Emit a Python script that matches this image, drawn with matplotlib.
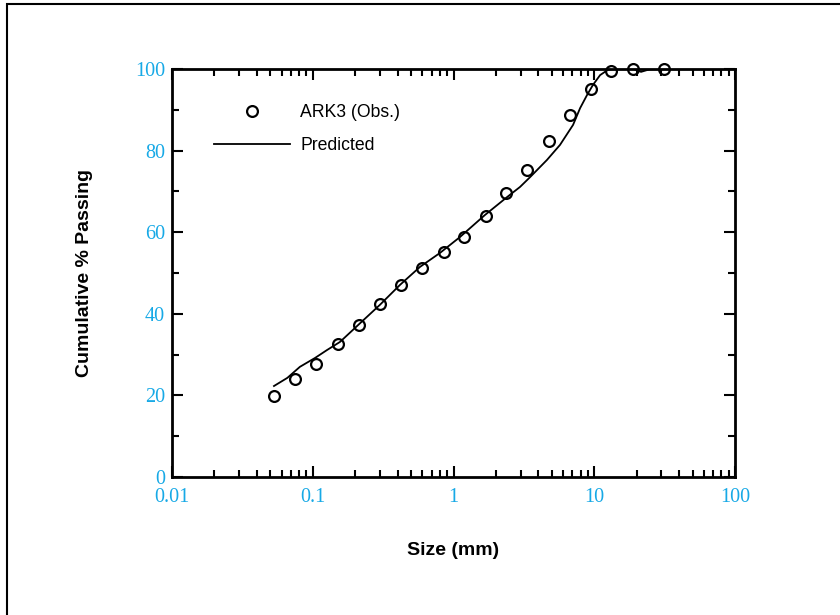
import numpy as np
import matplotlib.pyplot as plt
from matplotlib.patches import Rectangle
from matplotlib.ticker import LogLocator, MultipleLocator, FixedFormatter, FixedLocator

# observed gradation (sieve sizes in mm, % passing)
size_obs = [0.053, 0.075, 0.106, 0.15, 0.212, 0.3, 0.425, 0.6, 0.85, 1.18,
            1.7, 2.36, 3.35, 4.75, 6.7, 9.5, 13.2, 19.0, 31.5]
pass_obs = [19.8, 24.0, 27.7, 32.6, 37.3, 42.4, 47.1, 51.2, 55.1, 58.8,
            64.0, 69.6, 75.2, 82.4, 88.7, 95.1, 99.5, 100.0, 100.0]

# predicted curve
size_pred = [0.053, 0.066, 0.081, 0.104, 0.126, 0.156, 0.217, 0.30, 0.417, 0.578,
             0.80, 1.11, 1.67, 2.40, 2.97, 3.50, 4.61, 5.71, 7.07, 7.93, 8.88,
             9.79, 11.0, 12.5, 14.2, 19.0, 21.5, 24.6, 31.5]
pass_pred = [22.3, 24.3, 27.0, 29.2, 31.1, 33.1, 37.7, 42.2, 47.1, 51.5,
             54.9, 58.8, 64.2, 68.6, 71.1, 73.5, 77.7, 81.4, 86.3, 90.4, 93.6,
             96.1, 98.5, 99.8, 100.0, 100.0, 99.3, 99.9, 100.0]

tick_col = '#17A9E6'
serif = 'Liberation Serif'
sans = 'Liberation Sans'

fig = plt.figure(figsize=(8.4, 6.15), dpi=100)
ax = fig.add_axes([0.2048, 0.2244, 0.875 - 0.2048, 0.8878 - 0.2244])

ax.plot(size_obs, pass_obs, 'o', mfc='none', mec='black', ms=7.8, mew=1.6,
        label='ARK3 (Obs.)', clip_on=False, zorder=3)
ax.plot(size_pred, pass_pred, '-', color='black', lw=1.3, label='Predicted', zorder=2)

ax.set_xscale('log')
ax.set_xlim(0.01, 100)
ax.set_ylim(0, 100)

ax.xaxis.set_major_locator(FixedLocator([0.01, 0.1, 1, 10, 100]))
ax.xaxis.set_major_formatter(FixedFormatter(['0.01', '0.1', '1', '10', '100']))
ax.xaxis.set_minor_locator(LogLocator(base=10, subs=np.arange(2, 10), numticks=20))
ax.yaxis.set_major_locator(MultipleLocator(20))
ax.yaxis.set_minor_locator(MultipleLocator(10))

ax.tick_params(which='both', direction='in', top=True, right=True, width=1.5,
               colors='black', labelcolor=tick_col, labelsize=14.5, pad=5)
ax.tick_params(axis='x', which='major', pad=8)
ax.tick_params(which='major', length=8)
ax.tick_params(which='minor', length=5)
for lab in ax.get_xticklabels() + ax.get_yticklabels():
    lab.set_fontfamily(serif)

for sp in ax.spines.values():
    sp.set_linewidth(2)

ax.set_xlabel('Size (mm)', fontfamily=sans, fontweight='bold',
              fontsize=14, labelpad=25)
ax.set_ylabel('Cumulative % Passing', fontfamily=sans, fontweight='bold',
              fontsize=14, labelpad=30)

leg = ax.legend(loc='upper left', bbox_to_anchor=(0.075, 0.915), frameon=False,
                prop={'family': sans, 'size': 12.7}, borderpad=0, borderaxespad=0,
                handlelength=4.3, handletextpad=0.57, labelspacing=0.95)

# outer frame
fig.patches.append(Rectangle((7 / 840, -0.1), 1.2, (611 / 615) + 0.1,
                             transform=fig.transFigure, fill=False,
                             edgecolor='black', lw=1.5))

fig.savefig('out.png', dpi=100)
